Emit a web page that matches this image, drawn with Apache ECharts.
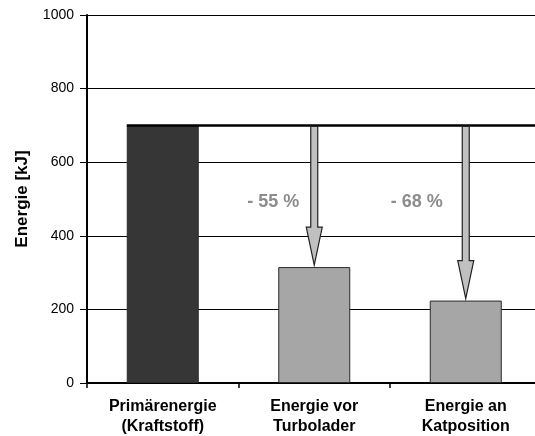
<!DOCTYPE html>
<html><head><meta charset="utf-8">
<script src="https://cdn.jsdelivr.net/npm/echarts@6/dist/echarts.min.js"></script>
<style>html,body{margin:0;padding:0;background:#fff}#c{width:535px;height:436px}</style>
</head><body><div id="c"></div>
<script>
var categories = ['Primärenergie\n(Kraftstoff)', 'Energie vor\nTurbolader', 'Energie an\nKatposition'];
var values = [700, 315, 224];
var referenceLevel = 700;
var arrowTargets = [[1, 315], [2, 224]];
var reductionLabels = [[1, 492, '- 55 %'], [2, 492, '- 68 %']];
var yTicks = [0, 200, 400, 600, 800, 1000];

var chart = echarts.init(document.getElementById('c'), null, {renderer: 'canvas'});
var BAR_W = 72;
chart.setOption({
  animation: false,
  grid: {left: 87, right: -6.5, top: 15, bottom: 53, containLabel: false, outerBoundsMode: 'none'},
  xAxis: {
    type: 'category', data: categories,
    axisLine: {lineStyle: {color: '#000', width: 2}},
    axisTick: {show: true, length: 5, lineStyle: {color: '#000', width: 1.5}},
    axisLabel: {color: '#000', fontFamily: 'Liberation Sans, Arial', fontWeight: 'bold', fontSize: 16, lineHeight: 20, margin: 14, interval: 0}
  },
  yAxis: {
    type: 'value', min: 0, max: 1000, interval: 200,
    name: 'Energie [kJ]', nameLocation: 'middle', nameGap: 56, nameRotate: 90,
    nameTextStyle: {color: '#000', fontFamily: 'Liberation Sans, Arial', fontWeight: 'bold', fontSize: 17},
    axisLine: {show: true, lineStyle: {color: '#000', width: 2}},
    axisTick: {show: true, length: 7, lineStyle: {color: '#000', width: 1}},
    axisLabel: {color: '#000', fontFamily: 'Liberation Sans, Arial', fontSize: 14, margin: 13,
      formatter: function (v) { return yTicks.indexOf(v) >= 0 ? String(v) : ''; }},
    splitLine: {show: true, lineStyle: {color: '#000', width: 1}}
  },
  series: [
    {
      type: 'bar', barWidth: BAR_W, z: 2,
      data: values.map(function (v, i) {
        return {value: v, itemStyle: {color: i === 0 ? '#363636' : '#a6a6a6', borderColor: '#2a2a2a', borderWidth: 1}};
      })
    },
    {
      type: 'custom', z: 3, data: [[0, referenceLevel]],
      renderItem: function (params, api) {
        var p = api.coord([api.value(0), api.value(1)]);
        var cs = params.coordSys;
        return {type: 'line', shape: {x1: p[0] - BAR_W / 2, y1: p[1], x2: cs.x + cs.width, y2: p[1]},
          style: {stroke: '#000', lineWidth: 2.5}};
      }
    },
    {
      type: 'custom', z: 4, data: arrowTargets,
      renderItem: function (params, api) {
        var top = api.coord([api.value(0), referenceLevel]);
        var tip = api.coord([api.value(0), api.value(1)]);
        var x = tip[0], y0 = top[1] + 1, y1 = tip[1] - 2;
        var hs = 3.5, hh = 8, hl = 38;
        var yh = y1 - hl;
        return {type: 'polygon', shape: {points: [
          [x - hs, y0], [x + hs, y0], [x + hs, yh], [x + hh, yh], [x, y1], [x - hh, yh], [x - hs, yh]
        ]}, style: {fill: '#c0c0c0', stroke: '#222', lineWidth: 1.2}};
      }
    },
    {
      type: 'custom', z: 5, data: reductionLabels,
      renderItem: function (params, api) {
        var p = api.coord([api.value(0), api.value(1)]);
        return {type: 'text', x: p[0] - 15 - 8 * params.dataIndex, y: p[1], style: {text: reductionLabels[params.dataIndex][2],
          fill: '#8c8c8c', font: 'bold 18px "Liberation Sans", Arial', align: 'right', verticalAlign: 'middle'}};
      }
    }
  ]
});
</script></body></html>
